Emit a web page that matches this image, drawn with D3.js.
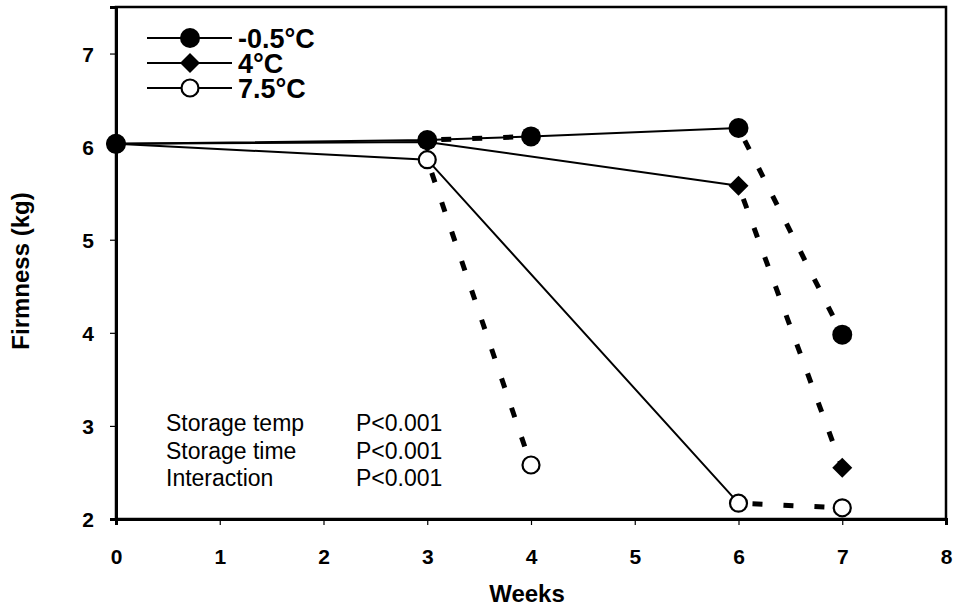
<!DOCTYPE html>
<html>
<head>
<meta charset="utf-8">
<script src="https://cdn.jsdelivr.net/npm/d3@7"></script>
<style>
  html, body { margin: 0; padding: 0; background: #ffffff; }
  svg { display: block; font-family: "Liberation Sans", Arial, sans-serif; }
</style>
</head>
<body>
<svg id="chart" width="960" height="611"></svg>
<script>
// Firmness of fruit (kg) over weeks of storage at three temperatures
const weeks = [0, 3, 4, 6, 7];
const seriesNames = ["-0.5°C", "4°C", "7.5°C"];
const firmColdest = [6.03, 6.07, 6.11, 6.20, 3.98];   // -0.5°C
const firmMid     = [6.03, 6.05, null, 5.58, 2.55];   // 4°C
const firmWarm    = [6.03, 5.86, 2.58, 2.17, 2.12];   // 7.5°C
const xTicks = [0, 1, 2, 3, 4, 5, 6, 7, 8];
const yTicks = [2, 3, 4, 5, 6, 7];
const statLabels = ["Storage temp", "Storage time", "Interaction"];
const statValues = ["P<0.001", "P<0.001", "P<0.001"];

// Which week pairs are joined by solid vs dashed segments
const series = [
  { name: seriesNames[0], values: firmColdest, marker: "circle", solid: [0, 3, 4, 6], dashed: [[3, 4], [6, 7]] },
  { name: seriesNames[1], values: firmMid, marker: "diamond", solid: [0, 3, 6], dashed: [[6, 7]] },
  { name: seriesNames[2], values: firmWarm, marker: "open", solid: [0, 3, 6], dashed: [[3, 4], [6, 7]] }
];

const svg = d3.select("#chart");
const x = d3.scaleLinear().domain([0, 8]).range([116, 946]);
const y = d3.scaleLinear().domain([2, 7.5]).range([519, 7]);

const val = (s, w) => s.values[weeks.indexOf(w)];

// Frame
svg.append("rect")
  .attr("x", x(0)).attr("y", y(7.5))
  .attr("width", x(8) - x(0)).attr("height", y(2) - y(7.5))
  .attr("fill", "none").attr("stroke", "#000").attr("stroke-width", 2.5);

// Axes
const xAxis = svg.append("g")
  .attr("transform", `translate(0,${y(2)})`)
  .call(d3.axisBottom(x).tickValues(xTicks).tickSize(6).tickPadding(24).tickFormat(d3.format("d")));
const yAxis = svg.append("g")
  .attr("transform", `translate(${x(0)},0)`)
  .call(d3.axisLeft(y).tickValues(yTicks).tickSize(6).tickPadding(16).tickFormat(d3.format("d")));
[xAxis, yAxis].forEach(g => {
  g.select(".domain").attr("stroke", "#000").attr("stroke-width", 3);
  g.selectAll(".tick line").attr("stroke", "#000").attr("stroke-width", 1.2);
  g.selectAll(".tick text")
    .attr("fill", "#000").attr("font-size", 21).attr("font-weight", "bold")
    .attr("font-family", "Liberation Sans, Arial, sans-serif");
});
yAxis.selectAll(".tick text").attr("dy", "0.36em");

// Axis titles
svg.append("text")
  .attr("x", (x(0) + x(8)) / 2 - 4).attr("y", 602)
  .attr("text-anchor", "middle").attr("font-size", 24).attr("font-weight", "bold")
  .text("Weeks");
svg.append("text")
  .attr("transform", `translate(29,${(y(2) + y(7.5)) / 2 + 8}) rotate(-90)`)
  .attr("text-anchor", "middle").attr("font-size", 24).attr("font-weight", "bold")
  .text("Firmness (kg)");

// Lines
const line = d3.line().x(d => x(d[0])).y(d => y(d[1]));
series.forEach(s => {
  svg.append("path")
    .datum(s.solid.map(w => [w, val(s, w)]))
    .attr("d", line).attr("fill", "none").attr("stroke", "#000").attr("stroke-width", 2);
  s.dashed.forEach(([a, b]) => {
    svg.append("path")
      .datum([[a, val(s, a)], [b, val(s, b)]])
      .attr("d", line).attr("fill", "none").attr("stroke", "#000")
      .attr("stroke-width", 5).attr("stroke-dasharray", "10,21").attr("stroke-dashoffset", -14);
  });
});

// Markers
function drawMarker(g, type, cx, cy) {
  if (type === "circle") {
    g.append("circle").attr("cx", cx).attr("cy", cy).attr("r", 10).attr("fill", "#000");
  } else if (type === "diamond") {
    g.append("path")
      .attr("d", `M${cx},${cy - 10}L${cx + 10},${cy}L${cx},${cy + 10}L${cx - 10},${cy}Z`)
      .attr("fill", "#000");
  } else {
    g.append("circle").attr("cx", cx).attr("cy", cy).attr("r", 8.5)
      .attr("fill", "#fff").attr("stroke", "#000").attr("stroke-width", 2.2);
  }
}
const markerLayer = svg.append("g");
// Draw warmest first so the filled markers sit on top at week 0
[...series].reverse().forEach(s => {
  weeks.forEach((w, i) => {
    if (s.values[i] != null) drawMarker(markerLayer, s.marker, x(w), y(s.values[i]));
  });
});

// Legend
const legend = svg.append("g");
series.forEach((s, i) => {
  const ly = 38 + i * 25;
  legend.append("line").attr("x1", 147).attr("x2", 232).attr("y1", ly).attr("y2", ly)
    .attr("stroke", "#000").attr("stroke-width", 2);
  drawMarker(legend, s.marker, 190, ly);
  legend.append("text").attr("x", 238).attr("y", ly + 10)
    .attr("font-size", 27).attr("font-weight", "bold").text(s.name);
});

// Significance notes
statLabels.forEach((t, i) => {
  svg.append("text").attr("x", 166).attr("y", 431 + i * 27.5)
    .attr("font-size", 23).text(t);
  svg.append("text").attr("x", 356).attr("y", 431 + i * 27.5)
    .attr("font-size", 23).text(statValues[i]);
});
</script>
</body>
</html>
